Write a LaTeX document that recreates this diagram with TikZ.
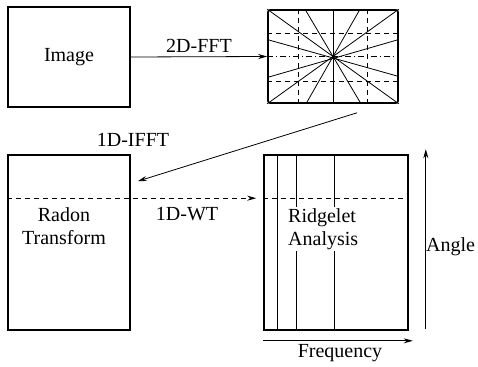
\documentclass[tikz,border=0pt]{standalone}
\usepackage{fontspec}
\setmainfont{Liberation Serif}
\usetikzlibrary{positioning, calc, arrows.meta}

\begin{document}
\begin{tikzpicture}[x=1pt, y=-1pt, >={Stealth[length=9pt,width=5pt]},
  box/.style={draw, line width=1.6pt, inner sep=0pt, font=\rmfamily\fontsize{20}{23}\selectfont},
  lbl/.style={font=\rmfamily\fontsize{20}{23}\selectfont, inner sep=1pt},
  flow/.style={->, line width=0.8pt},
  gridline/.style={dashed, dash pattern=on 5pt off 4pt, line width=0.7pt},
  bar/.style={line width=0.8pt}]
\useasboundingbox (0,0) rectangle (478,366);

% the four blocks
\node[box, minimum width=122pt, minimum height=100pt] (image) at (69,57) {Image};
\node[box, minimum width=130pt, minimum height=93pt, rounded corners=2pt] (fft) at (333,56.5) {};
\node[box, minimum width=122pt, minimum height=175pt] (radon) at (69,242.5) {};
\node[box, minimum width=144pt, minimum height=175pt] (ridge) at (336,242.5) {};

% spectrum grid
\foreach \dx in {-35,34}
  \draw[gridline] ($(fft.north)+(\dx,0)$) -- ($(fft.south)+(\dx,0)$);
\foreach \dy in {-23,25}
  \draw[gridline] ($(fft.west)+(0,\dy)$) -- ($(fft.east)+(0,\dy)$);
\draw[line width=0.7pt, dash pattern=on 6pt off 3pt on 1pt off 3pt] (fft.west) -- (fft.east);
% radial slices through the origin
\draw[bar] (fft.north) -- (fft.south);
\draw[bar] (fft.north west) -- (fft.south east);
\draw[bar] (fft.north east) -- (fft.south west);
\draw[bar] ($(fft.north)+(-28,0)$) -- ($(fft.south)+(28,0)$);
\draw[bar] ($(fft.north)+(27,0)$) -- ($(fft.south)+(-27,0)$);
\draw[bar] ($(fft.west)+(0,-17)$) -- ($(fft.east)+(0,20)$);
\draw[bar] ($(fft.west)+(0,21)$) -- ($(fft.east)+(0,-17)$);

% ridgelet bands
\foreach \dx in {14,33,71}
  \draw[bar] ($(ridge.north west)+(\dx,0)$) -- ($(ridge.south west)+(\dx,0)$);

\node[lbl, align=center] (radontxt) at (64,226) {Radon\\Transform};
\node[lbl, align=left, anchor=west, fill=white] (ridgetxt) at (287,229) {Ridgelet\\Analysis};

% transforms between blocks
\draw[flow] (image.east) -- (fft.west) node[lbl, midway, above=3pt] (fftlbl) {2D-FFT};

\coordinate (ifftfrom) at ($(fft.south)+(24,9)$);
\coordinate (ifftto) at ($(radon.north east)+(7,27)$);
\draw[flow] (ifftfrom) -- (ifftto);
\node[lbl] (iffttxt) at (133,140) {1D-IFFT};

\coordinate (slice) at ($(radon.north west)+(0,44)$);
\draw[gridline, ->, shorten >=7pt] (slice) -- (slice -| ridge.west);
\draw[gridline] (slice -| ridge.west) -- (slice -| ridge.east);
\node[lbl] (wttxt) at (187,214) {1D-WT};

% axes of the ridgelet block
\coordinate (angfrom) at ($(ridge.south east)+(17,-2)$);
\coordinate (angto) at ($(ridge.north east)+(17,-5)$);
\draw[flow] (angfrom) -- (angto);
\node[lbl, anchor=west, inner sep=0pt] (angtxt) at (426,247) {Angle};

\coordinate (freqfrom) at ($(ridge.south west)+(0,10)$);
\coordinate (freqto) at ($(ridge.south east)+(4,10)$);
\draw[flow] (freqfrom) -- (freqto);
\node[lbl] (freqtxt) at (340,353) {Frequency};
\end{tikzpicture}
\end{document}
